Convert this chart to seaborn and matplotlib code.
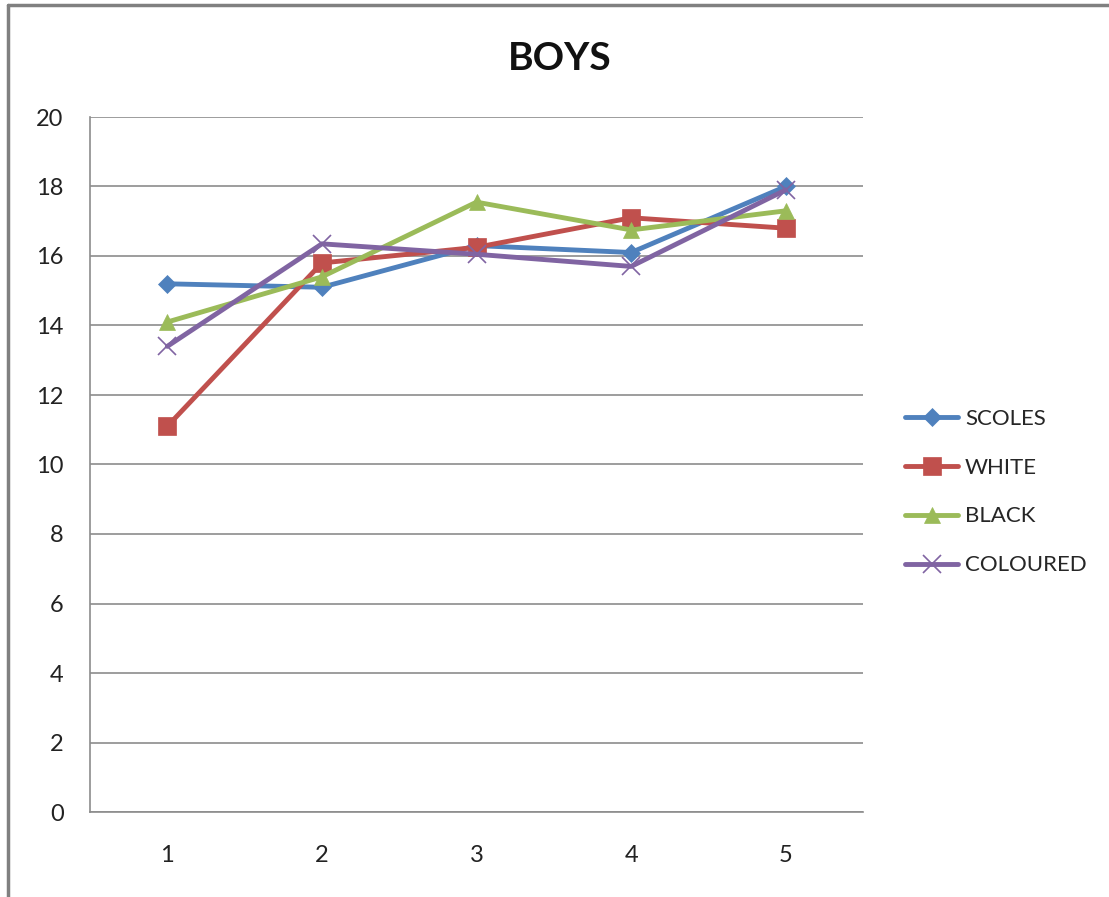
import numpy as np
import pandas as pd
import matplotlib
matplotlib.use("Agg")
import matplotlib.pyplot as plt
import matplotlib.ticker as ticker
from matplotlib.lines import Line2D
import seaborn as sns

categories = [1, 2, 3, 4, 5]
scoles = [15.2, 15.1, 16.3, 16.1, 18.0]
white = [11.1, 15.8, 16.25, 17.1, 16.8]
black = [14.1, 15.4, 17.55, 16.75, 17.3]
coloured = [13.4, 16.35, 16.05, 15.7, 17.9]

series_names = ["SCOLES", "WHITE", "BLACK", "COLOURED"]
colors = ["#4F81BD", "#C0504D", "#9BBB59", "#8064A2"]
markers = ["D", "s", "^", "x"]
msizes = [9, 13, 12, 13]

sns.set_style("white")
plt.rcParams["font.family"] = ["Lato", "DejaVu Sans"]

fig = plt.figure(figsize=(11.09, 8.97), dpi=100)
ax = fig.add_axes([90 / 1109, 1 - 812 / 897, (863 - 90) / 1109, (812 - 117) / 897])

for name, vals, c, m, ms in zip(series_names, [scoles, white, black, coloured], colors, markers, msizes):
    sns.lineplot(x=categories, y=vals, ax=ax, color=c, linewidth=3.5, marker=m,
                 markersize=ms, markeredgecolor=c, markeredgewidth=1.2 if m == "x" else 0.5,
                 label=name, legend=False)

ax.set_ylim(0, 20)
ax.set_xlim(0.5, 5.5)
ax.yaxis.set_major_locator(ticker.MultipleLocator(2))
ax.xaxis.set_major_locator(ticker.FixedLocator(categories))
ax.xaxis.set_minor_locator(ticker.FixedLocator(np.arange(0.5, 6, 1)))
ax.grid(axis="y", color="#8c8c8c", linewidth=1.2)
ax.set_axisbelow(True)
for s in ["top", "right"]:
    ax.spines[s].set_visible(False)
for s in ["left", "bottom"]:
    ax.spines[s].set_color("#8c8c8c")
    ax.spines[s].set_linewidth(1.2)
ax.tick_params(axis="x", which="major", length=0, pad=24, labelsize=17, colors="#222222")
ax.tick_params(axis="x", which="minor", length=7, width=1.2, color="#8c8c8c", direction="out")
ax.tick_params(axis="y", length=7, width=1.2, color="#8c8c8c", direction="out", pad=12,
               labelsize=17, labelcolor="#222222")
ax.set_xlabel("")
ax.set_ylabel("")

fig.text(0.505, 1 - 58 / 897, "BOYS", ha="center", va="center", fontsize=28, fontweight="bold",
         color="#111111")

handles = [Line2D([], [], color=c, linewidth=3.5, marker=m, markersize=ms, markeredgecolor=c,
                  markeredgewidth=1.2 if m == "x" else 0.5)
           for c, m, ms in zip(colors, markers, msizes)]
fig.legend(handles, series_names, loc="center left", bbox_to_anchor=(885 / 1109, 1 - 492 / 897),
           frameon=False, fontsize=16, handlelength=2.4, handletextpad=0.3, labelspacing=1.3)

fig.add_artist(Line2D([8 / 1109, 8 / 1109], [0, 1 - 5 / 897], color="#808080", linewidth=2.5))
fig.add_artist(Line2D([8 / 1109, 1], [1 - 5 / 897, 1 - 5 / 897], color="#808080", linewidth=2.5))

fig.savefig("out.png", dpi=100)
